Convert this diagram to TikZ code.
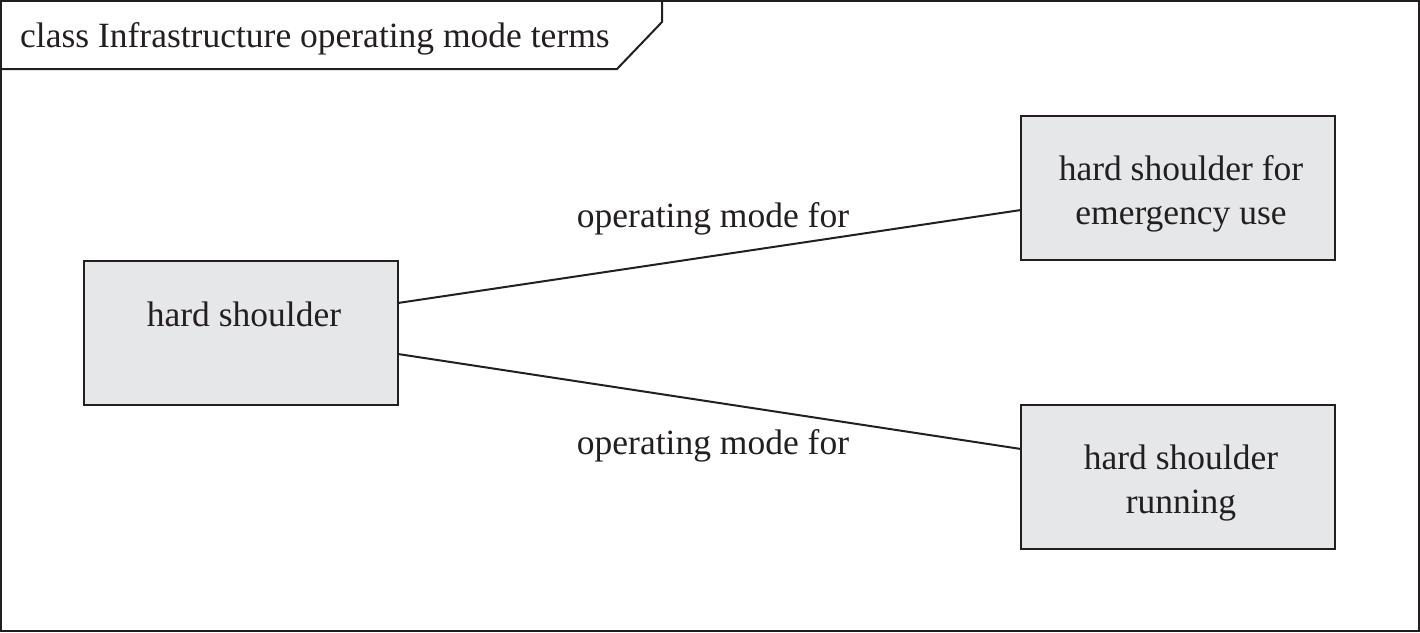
\documentclass[tikz,border=0pt]{standalone}
\usepackage{fontspec}
\setmainfont{Liberation Serif}
\definecolor{boxfill}{HTML}{E6E7E9}
\definecolor{ink}{HTML}{231F20}
\tikzset{
  cls/.style={draw=ink, fill=boxfill, line width=2pt, minimum width=314pt, minimum height=144pt, inner sep=0pt},
  txt/.style={font=\fontsize{35.5}{44}\selectfont, text=ink, inner sep=0pt, align=center},
  conn/.style={draw=ink, line width=2pt}
}
\begin{document}
\begin{tikzpicture}[x=1pt,y=-1pt]
\useasboundingbox (0,0) rectangle (1420,632);
\draw[ink, line width=2pt] (1,1) rectangle (1419,631);
\draw[ink, line width=2pt] (1,69) -- (617,69) -- (662,22) -- (662,1);
\node[txt, anchor=base west] (title) at (20,47) {class Infrastructure operating mode terms};

\node[cls] (hs) at (241,333) {};
\node[cls] (hse) at (1178,188) {};
\node[cls] (hsr) at (1178,477) {};

\node[txt, anchor=base] (hst) at (244,326) {hard shoulder};
\node[txt, anchor=base] (hset) at (1181,224) {hard shoulder for\\emergency use};
\node[txt, anchor=base] (hsrt) at (1181,513) {hard shoulder\\running};

\coordinate (a1) at (398,303);
\coordinate (b1) at (1021,210);
\coordinate (a2) at (398,354);
\coordinate (b2) at (1021,449);
\draw[conn] (a1) -- (b1);
\draw[conn] (a2) -- (b2);

\node[txt, anchor=base] (l1) at (713,227) {operating mode for};
\node[txt, anchor=base] (l2) at (713,454) {operating mode for};
\end{tikzpicture}
\end{document}
